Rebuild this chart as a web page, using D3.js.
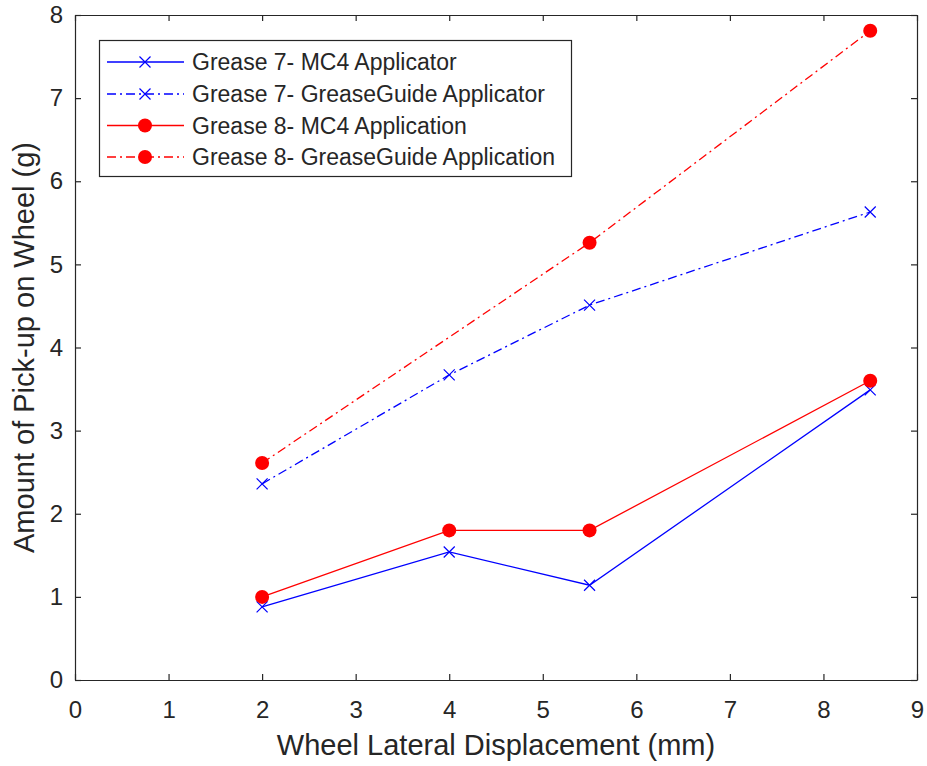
<!DOCTYPE html>
<html>
<head>
<meta charset="utf-8">
<script src="https://cdn.jsdelivr.net/npm/d3@7"></script>
<style>
  html, body { margin: 0; padding: 0; background: #fff; }
  svg { display: block; font-family: "Liberation Sans", Arial, Helvetica, sans-serif; }
</style>
</head>
<body>
<svg id="chart" width="927" height="766"></svg>
<script>
// Wheel lateral displacement (mm) for each test
const displacement = [2, 4, 5.5, 8.5];
const displacementG8GG = [2, 5.5, 8.5];

// Amount of pick-up on wheel (g)
const grease7MC4 = [0.88, 1.54, 1.14, 3.49];
const grease7GG = [2.36, 3.67, 4.51, 5.63];
const grease8MC4 = [1.00, 1.80, 1.80, 3.60];
const grease8GG = [2.61, 5.26, 7.81];

const xTicks = [0, 1, 2, 3, 4, 5, 6, 7, 8, 9];
const yTicks = [0, 1, 2, 3, 4, 5, 6, 7, 8];

const seriesNames = [
  "Grease 7- MC4 Applicator",
  "Grease 7- GreaseGuide Applicator",
  "Grease 8- MC4 Application",
  "Grease 8- GreaseGuide Application"
];

const series = [
  { name: seriesNames[0], xs: displacement, ys: grease7MC4, color: "#0000ff", dash: null, marker: "x" },
  { name: seriesNames[1], xs: displacement, ys: grease7GG, color: "#0000ff", dash: "9,4,2,4", marker: "x" },
  { name: seriesNames[2], xs: displacement, ys: grease8MC4, color: "#ff0000", dash: null, marker: "o" },
  { name: seriesNames[3], xs: displacementG8GG, ys: grease8GG, color: "#ff0000", dash: "9,4,2,4", marker: "o" }
];

const svg = d3.select("#chart");
const plotBox = { left: 75, right: 917, top: 15, bottom: 680 };
const axisColor = "#262626";
const tickFont = "24px", legendFont = "23px", labelFont = "29px";

const x = d3.scaleLinear().domain([0, 9]).range([plotBox.left, plotBox.right]);
const y = d3.scaleLinear().domain([0, 8]).range([plotBox.bottom, plotBox.top]);

// Axes with inward ticks, box on all four sides
const tickLen = 6;
const gx = svg.append("g").attr("transform", `translate(0,${plotBox.bottom})`)
  .call(d3.axisBottom(x).tickValues(xTicks).tickSizeInner(-tickLen).tickSizeOuter(0).tickFormat(d3.format("d")));
const gxTop = svg.append("g").attr("transform", `translate(0,${plotBox.top})`)
  .call(d3.axisTop(x).tickValues(xTicks).tickSizeInner(-tickLen).tickSizeOuter(0).tickFormat(""));
const gy = svg.append("g").attr("transform", `translate(${plotBox.left},0)`)
  .call(d3.axisLeft(y).tickValues(yTicks).tickSizeInner(-tickLen).tickSizeOuter(0).tickFormat(d3.format("d")));
const gyRight = svg.append("g").attr("transform", `translate(${plotBox.right},0)`)
  .call(d3.axisRight(y).tickValues(yTicks).tickSizeInner(-tickLen).tickSizeOuter(0).tickFormat(""));

[gx, gxTop, gy, gyRight].forEach(g => {
  g.select(".domain").attr("stroke", axisColor).attr("stroke-width", 1.2);
  g.selectAll(".tick line").attr("stroke", axisColor).attr("stroke-width", 1.2);
  g.selectAll(".tick text").attr("fill", axisColor).style("font-size", tickFont)
    .style("font-family", "'Liberation Sans', Arial, sans-serif");
});
gx.selectAll(".tick text").attr("y", 21).attr("dy", "0.71em");
gy.selectAll(".tick text").attr("x", -12);

// Axis titles
svg.append("text")
  .attr("x", (plotBox.left + plotBox.right) / 2).attr("y", 755)
  .attr("text-anchor", "middle").attr("fill", axisColor)
  .style("font-size", labelFont)
  .text("Wheel Lateral Displacement (mm)");

svg.append("text")
  .attr("transform", `translate(34,${(plotBox.top + plotBox.bottom) / 2}) rotate(-90)`)
  .attr("text-anchor", "middle").attr("fill", axisColor)
  .style("font-size", labelFont)
  .text("Amount of Pick-up on Wheel (g)");

// Marker drawing helper
function drawMarker(g, cx, cy, type, color) {
  if (type === "x") {
    const s = 5.5;
    g.append("path")
      .attr("d", `M${cx - s},${cy - s}L${cx + s},${cy + s}M${cx - s},${cy + s}L${cx + s},${cy - s}`)
      .attr("stroke", color).attr("stroke-width", 1.2).attr("fill", "none");
  } else {
    g.append("circle").attr("cx", cx).attr("cy", cy).attr("r", 7)
      .attr("fill", color).attr("stroke", "none");
  }
}

// Data lines and markers
const plot = svg.append("g");
const line = d3.line();
series.forEach(s => {
  const pts = s.xs.map((d, i) => [x(d), y(s.ys[i])]);
  plot.append("path")
    .attr("d", line(pts))
    .attr("fill", "none")
    .attr("stroke", s.color)
    .attr("stroke-width", 1.3)
    .attr("stroke-dasharray", s.dash);
  pts.forEach(p => drawMarker(plot, p[0], p[1], s.marker, s.color));
});

// Legend
const lg = svg.append("g");
lg.append("rect")
  .attr("x", 99.5).attr("y", 40.5).attr("width", 472).attr("height", 136)
  .attr("fill", "#fff").attr("stroke", axisColor).attr("stroke-width", 1.2);
const rowY = [62, 94, 125.5, 157];
series.forEach((s, i) => {
  const ry = rowY[i];
  lg.append("line")
    .attr("x1", 107).attr("x2", 184).attr("y1", ry).attr("y2", ry)
    .attr("stroke", s.color).attr("stroke-width", 1.3)
    .attr("stroke-dasharray", s.dash);
  drawMarker(lg, 145, ry, s.marker, s.color);
  lg.append("text")
    .attr("x", 192).attr("y", ry).attr("dy", "0.35em")
    .attr("fill", axisColor).style("font-size", legendFont)
    .text(s.name);
});
</script>
</body>
</html>
